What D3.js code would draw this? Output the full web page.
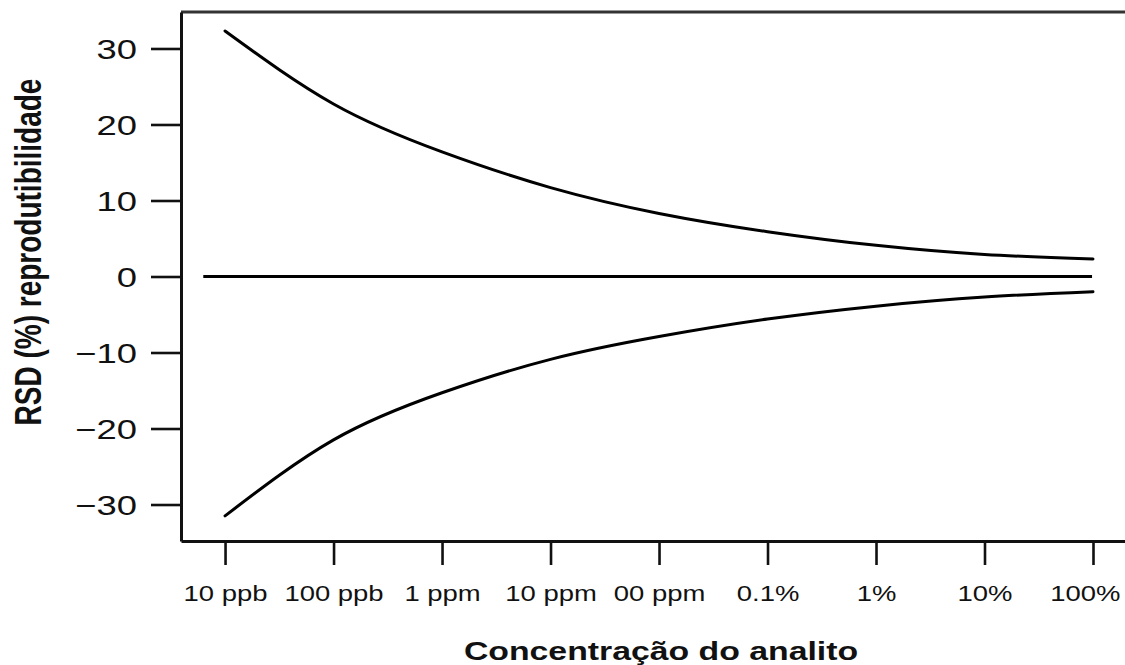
<!DOCTYPE html>
<html>
<head>
<meta charset="utf-8">
<script src="https://cdn.jsdelivr.net/npm/d3@7"></script>
<style>
  html, body { margin: 0; padding: 0; background: #fff; }
  svg { display: block; font-family: "Liberation Sans", Arial, Helvetica, sans-serif; }
</style>
</head>
<body>
<svg id="chart" width="1125" height="665"></svg>
<script>
// ---- data ----
const concentrations = [1e-8, 1e-7, 1e-6, 1e-5, 1e-4, 1e-3, 1e-2, 1e-1, 1];
const tickLabels = ["10 ppb", "100 ppb", "1 ppm", "10 ppm", "00 ppm", "0.1%", "1%", "10%", "100%"];
const upperRSD = [32.3, 22.7, 16.4, 11.7, 8.3, 5.9, 4.1, 2.9, 2.3];
const lowerRSD = [-31.5, -21.5, -15.3, -10.9, -7.9, -5.6, -3.9, -2.7, -2.0];
const zeroLine = [{c: 6.3e-9, v: 0}, {c: 0.98, v: 0}];
const yTicks = [-30, -20, -10, 0, 10, 20, 30];
const xTitle = "Concentração do analito";
const yTitle = "RSD (%) reprodutibilidade";

// ---- layout ----
const W = 1125, H = 665;
const plot = {left: 181, right: 1125, top: 12, bottom: 541};
const sx = 1.3; // horizontal stretch of the original image

const svg = d3.select("#chart");

const x = d3.scaleLog()
  .domain([Math.pow(10, -8.406), Math.pow(10, 0.295)])
  .range([plot.left, plot.right]);
const y = d3.scaleLinear()
  .domain([-34.8, 34.8])
  .range([plot.bottom, plot.top]);

// top frame line
svg.append("line")
  .attr("x1", plot.left).attr("x2", plot.right)
  .attr("y1", plot.top).attr("y2", plot.top)
  .attr("stroke", "#333").attr("stroke-width", 3);

// y axis
const yAxis = svg.append("g")
  .attr("transform", `translate(${plot.left},0)`)
  .call(d3.axisLeft(y).tickValues(yTicks).tickSize(30).tickSizeOuter(0)
        .tickFormat(d => d < 0 ? "\u2212" + Math.abs(d) : String(d)));
yAxis.select(".domain").attr("stroke", "#111").attr("stroke-width", 3);
yAxis.selectAll(".tick line").attr("stroke", "#111").attr("stroke-width", 2.6);
yAxis.selectAll(".tick text")
  .attr("x", null).attr("dy", "0.36em")
  .attr("text-anchor", "end")
  .attr("transform", `translate(-44,0) scale(${sx},1)`)
  .attr("font-size", 28).attr("fill", "#111")
  .attr("font-family", "'Liberation Sans', Arial, sans-serif");

// x axis
const xAxis = svg.append("g")
  .attr("transform", `translate(0,${plot.bottom})`)
  .call(d3.axisBottom(x).tickValues(concentrations).tickSize(24).tickSizeOuter(0)
        .tickFormat((d, i) => tickLabels[i]));
xAxis.select(".domain").attr("stroke", "#111").attr("stroke-width", 3);
xAxis.selectAll(".tick line").attr("stroke", "#111").attr("stroke-width", 2.6);
const nX = concentrations.length;
xAxis.selectAll(".tick text")
  .attr("y", null).attr("dy", null)
  .attr("text-anchor", (d, i) => i === nX - 1 ? "end" : "middle")
  .attr("transform", (d, i) => `translate(${i === nX - 1 ? 27 : 0},60) scale(${sx * 0.96},1)`)
  .attr("font-size", 22).attr("fill", "#111")
  .attr("font-family", "'Liberation Sans', Arial, sans-serif");

// curves
const line = d3.line()
  .x(d => x(d.c))
  .y(d => y(d.v))
  .curve(d3.curveNatural);

const upper = concentrations.map((c, i) => ({c, v: upperRSD[i]}));
const lower = concentrations.map((c, i) => ({c, v: lowerRSD[i]}));

svg.append("path").datum(upper).attr("d", line)
  .attr("fill", "none").attr("stroke", "#000").attr("stroke-width", 3).attr("stroke-linecap", "round");
svg.append("path").datum(lower).attr("d", line)
  .attr("fill", "none").attr("stroke", "#000").attr("stroke-width", 3).attr("stroke-linecap", "round");
svg.append("path").datum(zeroLine).attr("d", d3.line().x(d => x(d.c)).y(d => y(d.v)))
  .attr("fill", "none").attr("stroke", "#000").attr("stroke-width", 3);

// titles
svg.append("text")
  .attr("transform", `translate(661,660) scale(${sx},1)`)
  .attr("text-anchor", "middle")
  .attr("font-size", 26).attr("font-weight", "bold").attr("fill", "#111")
  .text(xTitle);

svg.append("text")
  .attr("transform", `translate(41,252) scale(${sx},1) rotate(-90)`)
  .attr("text-anchor", "middle")
  .attr("font-size", 28).attr("font-weight", "bold").attr("fill", "#111")
  .text(yTitle);
</script>
</body>
</html>
